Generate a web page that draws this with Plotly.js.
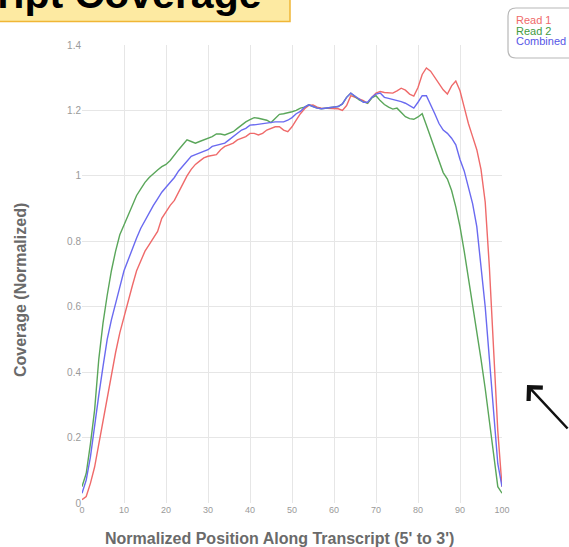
<!DOCTYPE html>
<html><head><meta charset="utf-8">
<script src="https://cdn.plot.ly/plotly-3.0.1.min.js"></script>
<style>html,body{margin:0;padding:0;background:#fff;overflow:hidden;} #chart{width:569px;height:547px;}</style>
</head><body><div id="chart"></div>
<script>
// ---- data ----
const positions = [0,1,2,3,4,5,6,7,8,9,10,11,12,13,14,15,16,17,18,19,20,21,22,23,24,25,26,27,28,29,30,31,32,33,34,35,36,37,38,39,40,41,42,43,44,45,46,47,48,49,50,51,52,53,54,55,56,57,58,59,60,61,62,63,64,65,66,67,68,69,70,71,72,73,74,75,76,77,78,79,80,81,82,83,84,85,86,87,88,89,90,91,92,93,94,95,96,97,98,99,100];

const read1 = [0.01,0.02,0.06,0.11,0.18,0.25,0.33,0.40,0.46,0.52,
  0.57,0.62,0.665,0.71,0.74,0.77,0.79,0.81,0.83,0.87,
  0.89,0.91,0.925,0.95,0.98,1.00,1.02,1.035,1.045,1.055,
  1.06,1.062,1.065,1.08,1.09,1.095,1.10,1.11,1.115,1.12,
  1.13,1.13,1.125,1.13,1.14,1.146,1.15,1.15,1.14,1.135,
  1.15,1.17,1.19,1.205,1.215,1.217,1.21,1.207,1.207,1.207,
  1.207,1.205,1.20,1.215,1.245,1.24,1.237,1.23,1.222,1.24,
  1.253,1.258,1.255,1.253,1.253,1.26,1.268,1.262,1.25,1.244,
  1.27,1.31,1.33,1.32,1.30,1.28,1.263,1.25,1.275,1.29,
  1.26,1.21,1.16,1.12,1.08,1.02,0.92,0.72,0.47,0.22,0.05];

const read2 = [0.05,0.09,0.18,0.284,0.44,0.55,0.635,0.71,0.77,0.82,
  0.85,0.88,0.913,0.94,0.96,0.98,0.995,1.008,1.018,1.028,
  1.035,1.047,1.065,1.08,1.095,1.11,1.105,1.10,1.105,1.11,
  1.115,1.12,1.128,1.128,1.125,1.13,1.135,1.145,1.155,1.165,
  1.172,1.178,1.176,1.174,1.17,1.163,1.175,1.188,1.19,1.192,
  1.196,1.20,1.207,1.21,1.217,1.212,1.207,1.205,1.207,1.208,
  1.21,1.212,1.22,1.24,1.253,1.242,1.232,1.226,1.222,1.238,
  1.245,1.23,1.218,1.21,1.204,1.207,1.195,1.181,1.175,1.173,
  1.18,1.19,1.155,1.12,1.085,1.045,1.01,0.99,0.955,0.905,
  0.845,0.77,0.69,0.61,0.52,0.44,0.35,0.245,0.14,0.05,0.03];

const combined = [0.03,0.07,0.14,0.24,0.33,0.417,0.50,0.56,0.615,0.66,
  0.71,0.745,0.78,0.81,0.84,0.865,0.89,0.91,0.93,0.95,
  0.965,0.98,0.995,1.015,1.03,1.045,1.06,1.065,1.07,1.075,
  1.08,1.09,1.094,1.098,1.10,1.11,1.12,1.13,1.14,1.145,
  1.155,1.156,1.158,1.159,1.16,1.163,1.165,1.165,1.165,1.17,
  1.178,1.19,1.197,1.21,1.217,1.212,1.207,1.205,1.207,1.208,
  1.21,1.212,1.22,1.24,1.253,1.245,1.235,1.225,1.225,1.24,
  1.25,1.253,1.24,1.237,1.234,1.232,1.227,1.222,1.215,1.207,
  1.225,1.245,1.245,1.22,1.19,1.16,1.14,1.13,1.115,1.095,
  1.05,1.015,0.965,0.915,0.845,0.72,0.60,0.44,0.28,0.12,0.05];

const seriesNames = ['Read 1', 'Read 2', 'Combined'];
const xTickVals = [0,10,20,30,40,50,60,70,80,90,100];
const xTickText = ['0','10','20','30','40','50','60','70','80','90','100'];
const yTickVals = [0,0.2,0.4,0.6,0.8,1,1.2,1.4];
const yTickText = ['0','0.2','0.4','0.6','0.8','1','1.2','1.4'];
const titleText = 'Transcript Coverage';
const xTitle = "Normalized Position Along Transcript (5' to 3')";
const yTitle = 'Coverage (Normalized)';

// ---- styling ----
const colors = ['#ef6a6a', '#5aa65a', '#6a6af0'];
const FONT = 'Liberation Sans, Arial, sans-serif';
const W = 569, H = 547, L = 82, R = 502, T = 45, B = 503;
const px2x = p => (p - L) / (R - L);
const py2y = p => (B - p) / (B - T);

function roundedBoxPath(x0, y0, x1, y1, r) {
  const P = (a, b) => px2x(a) + ',' + py2y(b);
  return 'M' + P(x0 + r, y0) + ' L' + P(x1, y0) + ' L' + P(x1, y1) + ' L' + P(x0 + r, y1) +
    ' Q' + P(x0, y1) + ' ' + P(x0, y1 - r) + ' L' + P(x0, y0 + r) +
    ' Q' + P(x0, y0) + ' ' + P(x0 + r, y0) + ' Z';
}

const seriesData = [read1, read2, combined];
const traces = seriesData.map((ys, i) => ({
  type: 'scatter', mode: 'lines', x: positions, y: ys, name: seriesNames[i],
  line: {color: colors[i], width: 1.4}, hoverinfo: 'skip', showlegend: false
}));

const layout = {
  width: W, height: H,
  margin: {l: L, r: W - R, t: T, b: H - B, pad: 0},
  paper_bgcolor: '#ffffff', plot_bgcolor: '#ffffff',
  font: {family: FONT},
  showlegend: false,
  xaxis: {
    range: [0, 100], tickmode: 'array', tickvals: xTickVals, ticktext: xTickText,
    showgrid: true, gridcolor: '#e6e6e6', gridwidth: 1, zeroline: false, showline: false,
    ticks: '', tickfont: {size: 9, color: '#9a9a9a', family: FONT},
    automargin: false
  },
  yaxis: {
    range: [0, 1.4], tickmode: 'array', tickvals: yTickVals, ticktext: yTickText,
    showgrid: true, gridcolor: '#e6e6e6', gridwidth: 1, zeroline: false, showline: false,
    ticks: '', tickfont: {size: 10, color: '#9a9a9a', family: FONT},
    automargin: false
  },
  shapes: [
    {type: 'rect', xref: 'paper', yref: 'paper', x0: px2x(-20), x1: px2x(290), y0: py2y(21.5), y1: py2y(-30),
     fillcolor: '#fdeaa2', line: {color: '#f0b636', width: 1.5}, layer: 'above'},
    {type: 'path', xref: 'paper', yref: 'paper', path: roundedBoxPath(508, 8, 590, 58, 8),
     fillcolor: '#ffffff', line: {color: '#b8b8b8', width: 1.2}, layer: 'above'}
  ],
  annotations: [
    {xref: 'paper', yref: 'paper', x: px2x(264), y: py2y(19), xanchor: 'right', yanchor: 'bottom',
     text: '<b>' + titleText + '</b>', showarrow: false,
     font: {size: 41, color: '#000000', family: FONT}},
    {xref: 'paper', yref: 'paper', x: px2x(279), y: py2y(538), xanchor: 'center', yanchor: 'middle',
     text: '<b>' + xTitle + '</b>', showarrow: false,
     font: {size: 16, color: '#6a6a6a', family: FONT}},
    {xref: 'paper', yref: 'paper', x: px2x(20), y: py2y(290), xanchor: 'center', yanchor: 'middle',
     text: '<b>' + yTitle + '</b>', showarrow: false, textangle: -90,
     font: {size: 16, color: '#6a6a6a', family: FONT}},
    {xref: 'paper', yref: 'paper', x: px2x(514), y: py2y(20), xanchor: 'left', yanchor: 'middle',
     text: seriesNames[0], showarrow: false, font: {size: 11, color: colors[0], family: FONT}},
    {xref: 'paper', yref: 'paper', x: px2x(514), y: py2y(30.5), xanchor: 'left', yanchor: 'middle',
     text: seriesNames[1], showarrow: false, font: {size: 11, color: '#3f9a3f', family: FONT}},
    {xref: 'paper', yref: 'paper', x: px2x(514), y: py2y(41), xanchor: 'left', yanchor: 'middle',
     text: seriesNames[2], showarrow: false, font: {size: 11, color: '#5656e6', family: FONT}},
    {xref: 'paper', yref: 'paper', x: px2x(527), y: py2y(385), text: '', showarrow: true,
     arrowhead: 4, arrowsize: 1.5, arrowwidth: 2.5, arrowcolor: '#111111', ax: 62, ay: 45, standoff: 0}
  ]
};

Plotly.newPlot('chart', traces, layout, {displayModeBar: false, staticPlot: true});
</script>
</body></html>
